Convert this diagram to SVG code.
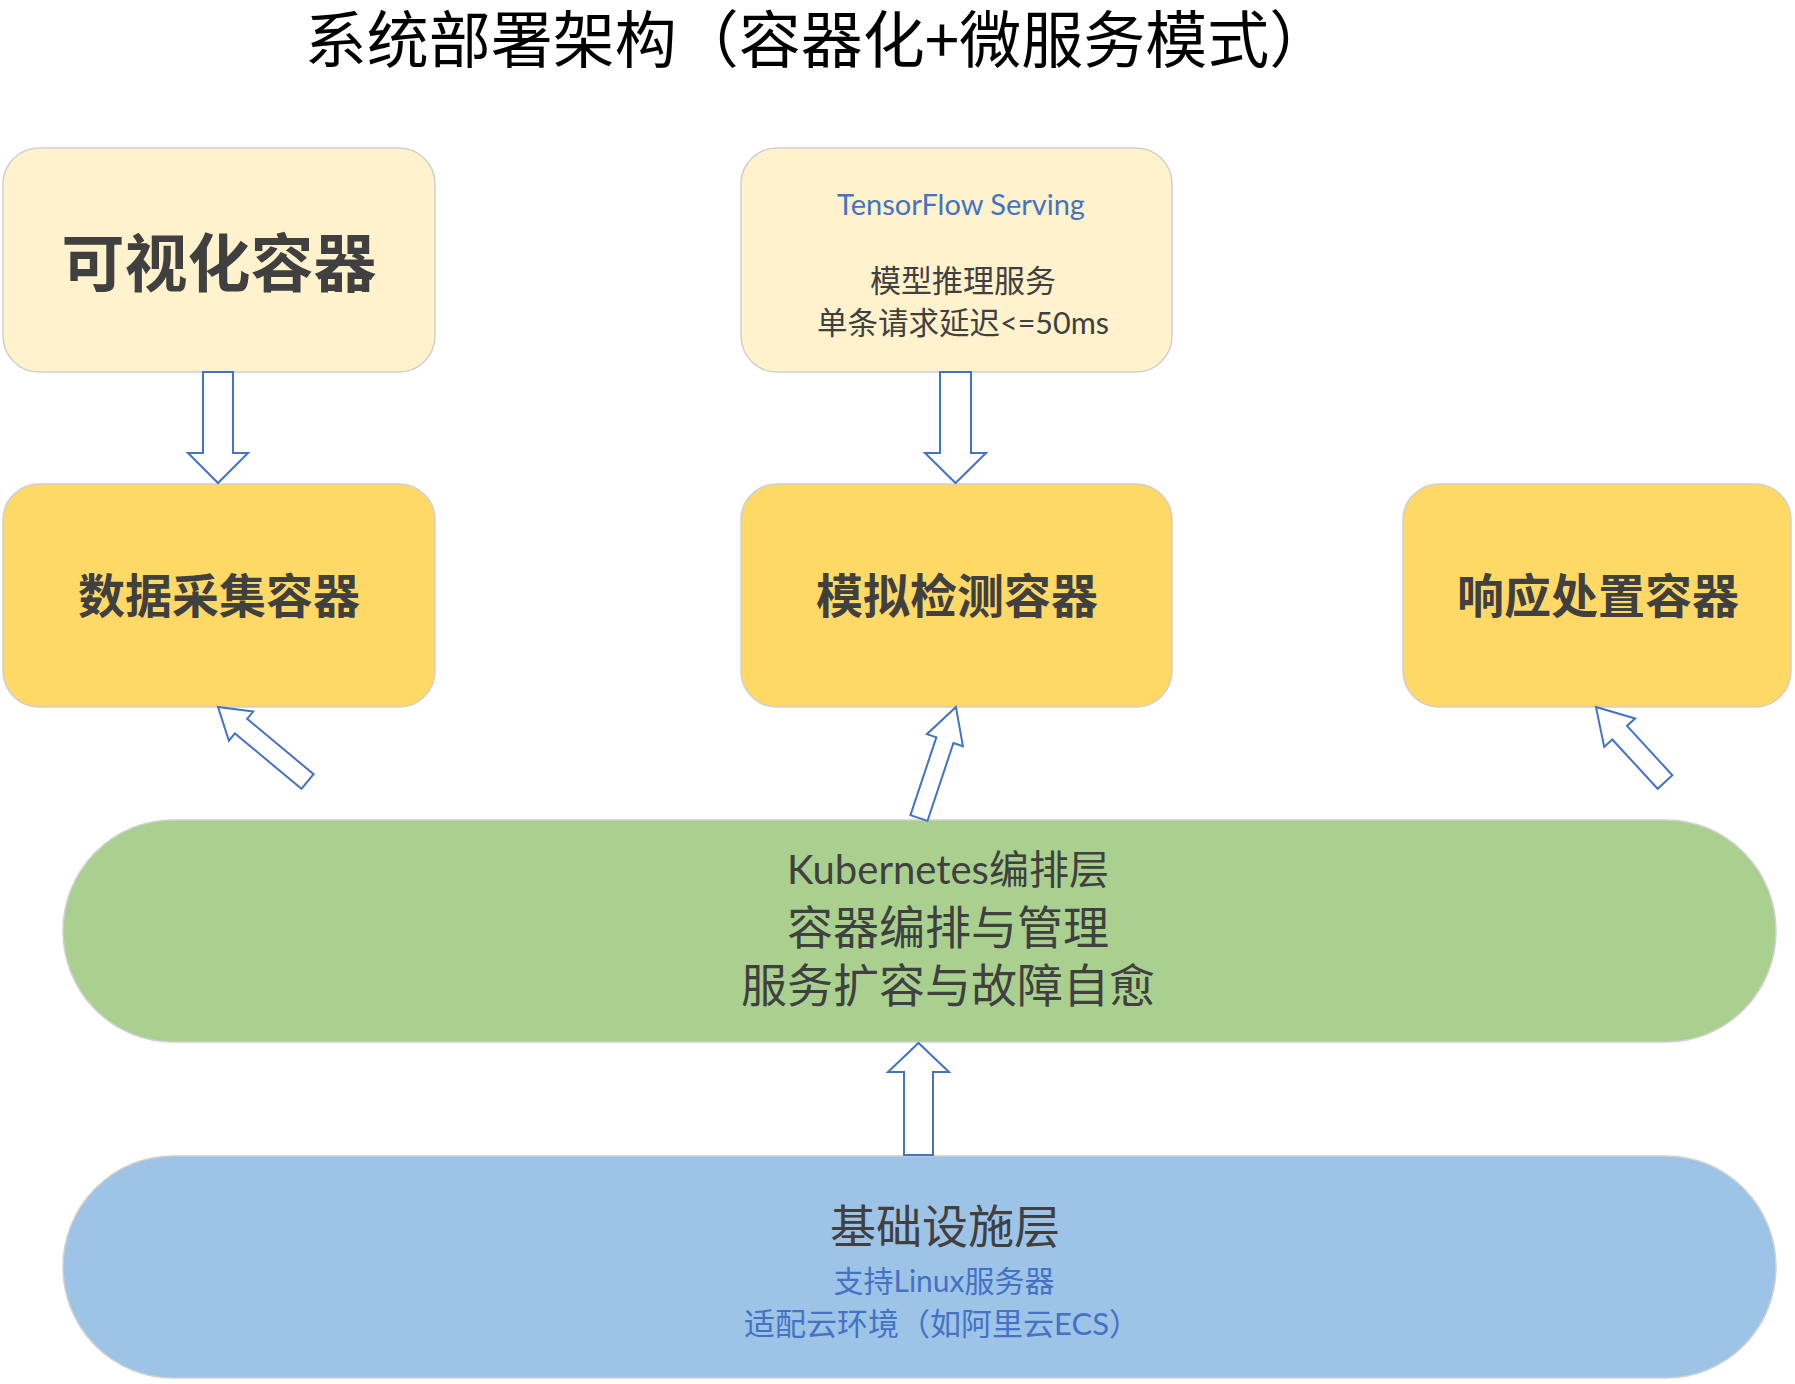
<svg xmlns="http://www.w3.org/2000/svg" width="1795" height="1384" viewBox="0 0 1795 1384">
<style>
.bg{fill:#ffffff}
.light{fill:#FFF2CC;stroke:#CFCFCF;stroke-width:1.5}
.gold{fill:#FFD966;stroke:#CFCFCF;stroke-width:1.5}
.green{fill:#A9D08E;stroke:#D0D0D0;stroke-width:1.5}
.blue{fill:#9DC3E6;stroke:#D0D0D0;stroke-width:1.5}
.arrow{fill:#ffffff;stroke:#4472C4;stroke-width:2;stroke-linejoin:miter}
.t{font-family:"Lato","Noto Sans CJK SC",sans-serif;text-anchor:middle;fill:#404040}
.cjk{font-family:"Noto Sans CJK SC",sans-serif;text-anchor:middle;fill:#404040}
.b{font-weight:bold}
.bl{fill:#4472C4}
</style>
<rect class="bg" x="0" y="0" width="1795" height="1384"/>
<text id="title" class="cjk" x="818" y="63" font-size="62" style="fill:#000">系统部署架构（容器化+微服务模式）</text>
<g id="node-visual">
<rect class="light" x="3" y="148" width="432" height="224" rx="36"/>
<text class="cjk b" x="219" y="286" font-size="63">可视化容器</text>
</g>
<g id="node-tfserving">
<rect class="light" x="741" y="148" width="431" height="224" rx="36"/>
<text class="t bl" x="961" y="215" font-size="29">TensorFlow Serving</text>
<text class="t" x="963" y="292" font-size="31">模型推理服务</text>
<text class="t" x="963" y="334" font-size="30.5">单条请求延迟&lt;=50ms</text>
</g>
<g id="node-collect">
<rect class="gold" x="3" y="484" width="432" height="223" rx="36"/>
<text class="cjk b" x="219" y="613" font-size="47">数据采集容器</text>
</g>
<g id="node-detect">
<rect class="gold" x="741" y="484" width="431" height="223" rx="36"/>
<text class="cjk b" x="957" y="613" font-size="47">模拟检测容器</text>
</g>
<g id="node-response">
<rect class="gold" x="1403" y="484" width="388" height="223" rx="36"/>
<text class="cjk b" x="1598" y="613" font-size="47">响应处置容器</text>
</g>
<g id="node-k8s">
<rect class="green" x="63" y="820" width="1713" height="222" rx="110" ry="111"/>
<text class="t" x="948" y="884" font-size="40">Kubernetes编排层</text>
<text class="t" x="948" y="944" font-size="46">容器编排与管理</text>
<text class="t" x="948" y="1002" font-size="46">服务扩容与故障自愈</text>
</g>
<g id="node-infra">
<rect class="blue" x="63" y="1156" width="1713" height="222" rx="110" ry="111"/>
<text class="t" x="945" y="1243" font-size="46">基础设施层</text>
<text class="t bl" x="944" y="1292" font-size="30">支持Linux服务器</text>
<text class="t bl" x="942" y="1335" font-size="31">适配云环境（如阿里云ECS）</text>
</g>
<g id="connectors">
<path class="arrow" d="M203,372 L233,372 L233,453 L248,453 L218,483 L188,453 L203,453 Z"/>
<path class="arrow" d="M940,372 L971,372 L971,453 L986,453 L955.5,483 L925,453 L940,453 Z"/>
<path class="arrow" d="M904,1155 L933,1155 L933,1072 L949,1072 L918.5,1043 L888,1072 L904,1072 Z"/>
<path class="arrow" transform="translate(307.5,781.5) rotate(219.8)" d="M0,-9.5 L86.5,-9.5 L86.5,-19 L116.5,0 L86.5,19 L86.5,9.5 L0,9.5 Z"/>
<path class="arrow" transform="translate(919,818) rotate(-71.6)" d="M0,-9 L82,-9 L82,-19 L117,0 L82,19 L82,9 L0,9 Z"/>
<path class="arrow" transform="translate(1665,782) rotate(227.4)" d="M0,-10 L67,-10 L67,-21 L102,0 L67,21 L67,10 L0,10 Z"/>
</g>
</svg>
